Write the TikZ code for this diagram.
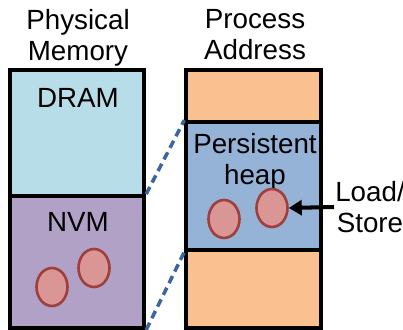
\documentclass[tikz,border=0pt]{standalone}
\usepackage{fontspec}
\setmainfont{Liberation Sans}
\usetikzlibrary{arrows.meta,shapes.geometric}

\definecolor{dramblue}{HTML}{B7DDE8}
\definecolor{nvmpurple}{HTML}{B2A1C7}
\definecolor{procorange}{HTML}{FAC090}
\definecolor{heapblue}{HTML}{95B3D7}
\definecolor{blobfill}{HTML}{D99694}
\definecolor{blobedge}{HTML}{A0403E}
\definecolor{mapblue}{HTML}{3C679E}

\begin{document}
\begin{tikzpicture}[x=0.02cm, y=-0.02cm, font=\fontsize{15.8}{17.6}\selectfont,
	region/.style={draw, line width=2.2pt, minimum width=2.69cm, inner sep=0pt},
	blob/.style={ellipse, draw=blobedge, fill=blobfill, line width=1.5pt, minimum width=0.62cm, minimum height=0.76cm, inner sep=0pt},
	mapping/.style={mapblue, line width=2pt, dash pattern=on 0.16cm off 0.1cm}]
\useasboundingbox (0,0) rectangle (403,330);

% physical memory
\node[region, fill=dramblue, minimum height=2.52cm] (dram) at (77,133) {};
\node[region, fill=nvmpurple, minimum height=2.64cm] (nvm) at (77,262) {};
\node[align=center] (phys) at (78,38) {Physical\\Memory};
\node (dramtxt) at (78,98) {DRAM};
\node (nvmtxt) at (78,222) {NVM};
\node[blob] (nvmobj1) at (52,287) {};
\node[blob] (nvmobj2) at (94,268) {};

% process address space
\node[region, fill=procorange, minimum height=1.04cm] (top) at (253.5,96) {};
\node[region, fill=heapblue, minimum height=2.56cm] (heap) at (253.5,186) {};
\node[region, fill=procorange, minimum height=1.56cm] (bottom) at (253.5,289) {};
\node[align=center] (proc) at (255,35) {Process\\Address};
\node[align=center] (heaptxt) at (255,162) {Persistent\\heap};
\node[blob] (heapobj1) at (224,219) {};
\node[blob] (heapobj2) at (272,208) {};

% mapping and access
\draw[mapping] (nvm.north east) -- (heap.north west);
\draw[mapping] (nvm.south east) -- (heap.south west);
\node[align=center] (ldst) at (370,207) {Load/\\Store};
\coordinate (ldsrc) at (334,207);
\draw[line width=2.3pt, -{Triangle[length=0.26cm, width=0.3cm]}] (ldsrc) -- (heapobj2.east);
\end{tikzpicture}
\end{document}
